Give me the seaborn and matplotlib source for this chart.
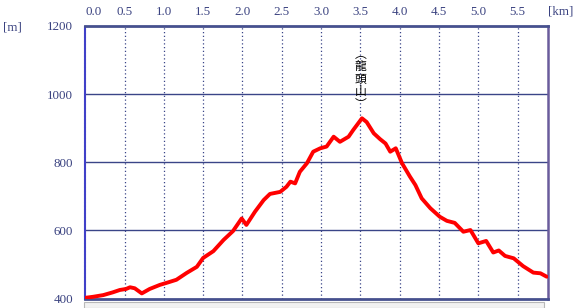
import matplotlib
matplotlib.use("Agg")
import matplotlib.pyplot as plt
import seaborn as sns
import pandas as pd
from matplotlib.patches import Rectangle

# distance along the route [km]
dist = [0.00, 0.10, 0.23, 0.35, 0.44, 0.52, 0.57, 0.63, 0.72, 0.82, 0.95, 1.05,
        1.16, 1.29, 1.42, 1.50, 1.63, 1.76, 1.88, 1.99, 2.05, 2.16, 2.27, 2.35,
        2.48, 2.56, 2.61, 2.67, 2.73, 2.82, 2.90, 2.99, 3.07, 3.16, 3.24, 3.35,
        3.41, 3.52, 3.58, 3.67, 3.75, 3.82, 3.88, 3.95, 4.03, 4.13, 4.20, 4.28,
        4.39, 4.51, 4.60, 4.70, 4.81, 4.90, 5.00, 5.10, 5.19, 5.26, 5.34, 5.45,
        5.57, 5.70, 5.79, 5.87]
# elevation [m]
elev = [402, 405, 410, 418, 425, 428, 433, 430, 415, 428, 440, 447,
        455, 475, 493, 519, 539, 572, 598, 635, 616, 655, 689, 707,
        713, 728, 743, 738, 772, 797, 831, 841, 846, 875, 860, 875,
        895, 929, 918, 885, 868, 855, 831, 841, 797, 758, 733, 694,
        665, 640, 628, 622, 596, 601, 562, 569, 535, 541, 525, 518,
        495, 476, 474, 464]

x_ticks = [0.0, 0.5, 1.0, 1.5, 2.0, 2.5, 3.0, 3.5, 4.0, 4.5, 5.0, 5.5]
x_labels = ["0.0", "0.5", "1.0", "1.5", "2.0", "2.5", "3.0", "3.5", "4.0", "4.5", "5.0", "5.5"]
y_ticks = [400, 600, 800, 1000, 1200]
y_labels = ["400", "600", "800", "1000", "1200"]
peak_name = "龍頭山"
peak_km = 3.5

sns.set_style("white")
plt.rcParams["font.family"] = ["Liberation Serif", "Noto Sans CJK JP", "DejaVu Sans"]

TXT = "#3a4280"
GRID = "#3a4588"

fig = plt.figure(figsize=(5.74, 3.08), dpi=100)
ax = fig.add_axes([85.2 / 574, 1 - 298.5 / 308, (547.5 - 85.2) / 574, (298.5 - 26) / 308])

df = pd.DataFrame({"km": dist, "m": elev})
sns.lineplot(data=df, x="km", y="m", ax=ax, sort=False, color="#ff0000",
             linewidth=2.8, solid_joinstyle="round", solid_capstyle="round", zorder=5)

ax.set_xlim(0, 5.88)
ax.set_ylim(400, 1200)
ax.set_xlabel("")
ax.set_ylabel("")

ax.xaxis.tick_top()
ax.set_xticks(x_ticks)
ax.set_xticklabels(x_labels)
ax.set_yticks(y_ticks)
ax.set_yticklabels(y_labels)
ax.tick_params(axis="x", length=0, pad=6.0, labelsize=9.4, labelcolor=TXT)
ax.tick_params(axis="y", length=0, pad=8.6, labelsize=9.4, labelcolor=TXT)
ax.get_xticklabels()[0].set_horizontalalignment("left")

ax.grid(False)
for y in y_ticks[1:-1]:
    ax.axhline(y, color=GRID, linewidth=1.0, zorder=1)
for x in x_ticks[1:]:
    ax.axvline(x, color=GRID, linewidth=0.9, linestyle=(0, (1, 2)), zorder=1)

for side in ["top", "bottom"]:
    ax.spines[side].set_color("#46508e")
    ax.spines[side].set_linewidth(2.0)
ax.spines["right"].set_color("#6a5c9c")
ax.spines["right"].set_linewidth(1.8)
ax.spines["left"].set_color("#4040c8")
ax.spines["left"].set_linewidth(1.5)
ax.spines["left"].set_linestyle((0, (1, 0.8)))

# unit labels
fig.text(3 / 574, 1 - 28 / 308, "[m]", color=TXT, fontsize=9.4, ha="left", va="center")
fig.text(548 / 574, 1 - 12 / 308, "[km]", color=TXT, fontsize=9.4, ha="left", va="center")

# peak name, vertical
ax.text(peak_km, 1044, "︵\n" + "\n".join(peak_name) + "\n︶", ha="center", va="center",
        fontsize=8.5, linespacing=0.95, color="black",
        family=["Noto Sans CJK JP", "DejaVu Sans"], zorder=6)

# grey bar below the chart
fig.patches.append(Rectangle((84 / 574, 0), (544 - 84) / 574, 1 - 301.5 / 308,
                             transform=fig.transFigure, facecolor="#f2f2f2",
                             edgecolor="#b8b8b8", linewidth=0.8))

fig.savefig("out.png", dpi=100)
